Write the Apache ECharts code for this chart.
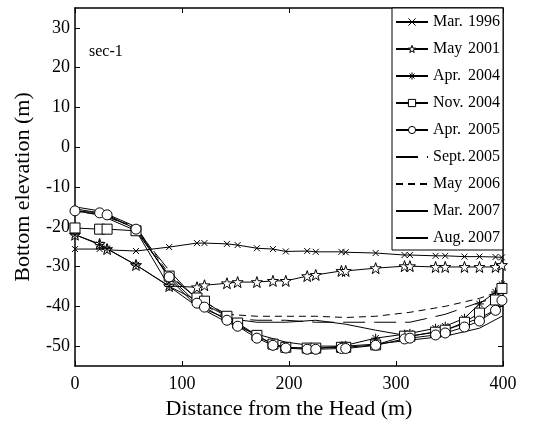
<!DOCTYPE html>
<html>
<head>
<meta charset="utf-8">
<script src="https://cdn.jsdelivr.net/npm/echarts@6/dist/echarts.min.js"></script>
<style>
  html, body { margin: 0; padding: 0; background: #fff; }
  #chart { width: 548px; height: 421px; }
</style>
</head>
<body>
<div id="chart"></div>
<script>
// survey stations (m from the head) shared by the marked profiles
var stations = [0, 23, 30, 57, 88, 114, 121, 142, 152, 170, 185, 197, 217, 225, 249, 253, 281, 308, 313, 337, 346, 364, 378, 393, 399]
var mar1996 = [-25.6, -25.6, -25.8, -26.1, -25.1, -24.1, -24.1, -24.3, -24.6, -25.4, -25.6, -26.2, -26.1, -26.3, -26.3, -26.4, -26.6, -27.1, -27.1, -27.3, -27.3, -27.5, -27.5, -27.6, -27.7]
var may2001 = [-22, -24.3, -25.6, -29.6, -34.9, -35.2, -34.7, -34.2, -33.9, -33.9, -33.6, -33.6, -32.4, -32.1, -31.1, -31.1, -30.4, -29.9, -29.9, -30.1, -30.1, -30.1, -30.1, -30.1, -29.6]
var apr2004 = [-22, -24.5, -25.5, -29.6, -35, -38.5, -39.5, -42.5, -44.5, -47.5, -49.5, -50.3, -50.6, -50.6, -50, -49.8, -48, -47, -46.8, -45.5, -45, -43, -39.4, -36.4, -34.5]
var nov2004 = [-20.3, -20.6, -20.6, -21, -32.4, -37.9, -38.7, -42.5, -44.2, -47.3, -49.5, -50.3, -50.5, -50.5, -50.3, -50.3, -49.7, -47.5, -47.5, -46.5, -46, -44, -41.7, -38.4, -35.5]
var apr2005 = [-16, -16.5, -17, -20.6, -32.6, -39.2, -40.2, -43.5, -45, -48, -49.8, -50.5, -50.8, -50.8, -50.6, -50.6, -49.8, -48.2, -48, -47.2, -46.7, -45.2, -43.7, -41, -38.5]

// unmarked profiles
var lineX = [0, 23, 57, 88, 114, 142, 170, 197, 225, 253, 281, 313, 346, 378, 399]
var sep2005 = [-15.5, -16.5, -20.5, -31, -38.5, -43, -43.5, -43.5, -44, -44, -44, -44, -42, -39, -37.5]
var may2006 = [-16, -17, -20, -32, -38, -42, -42.5, -42.5, -42.5, -42.8, -42.5, -41.5, -40, -38, -36]
var mar2007 = [-15, -16, -20, -33, -40, -43, -44, -44, -43.5, -44.5, -46, -47.5, -46, -43, -40]
var aug2007 = [-16, -17, -21, -35, -40, -44, -47, -49, -50, -50, -49.5, -48.5, -47.5, -45.5, -42.5]

var yTicks = [-50, -40, -30, -20, -10, 0, 10, 20, 30]

var FONT = 'Liberation Serif'
var STAR = 'path://M10 0 L12.35 6.76 L19.51 6.91 L13.8 11.24 L15.88 18.09 L10 14 L4.12 18.09 L6.2 11.24 L0.49 6.91 L7.65 6.76 Z'
var CROSS = 'path://M0 0 L10 10 M10 0 L0 10'
var ASTER = 'path://M5 0 L5 10 M0 5 L10 5 M1.5 1.5 L8.5 8.5 M8.5 1.5 L1.5 8.5'

function pairs(xs, ys) {
  return xs.map(function (x, i) { return [x, ys[i]] })
}

function marked(name, ys, symbol, size) {
  return {
    name: name, type: 'line', data: pairs(stations, ys),
    symbol: symbol, symbolSize: size, showSymbol: true,
    lineStyle: { color: '#000', width: 1 },
    itemStyle: { color: '#fff', borderColor: '#000', borderWidth: 1 },
    emphasis: { disabled: true }, animation: false
  }
}

function plain(name, ys, type) {
  return {
    name: name, type: 'line', data: pairs(lineX, ys),
    symbol: 'none',
    lineStyle: { color: '#000', width: 1, type: type },
    itemStyle: { color: '#000', opacity: 0 },
    emphasis: { disabled: true }, animation: false
  }
}

var series = [
  marked('Mar. 1996', mar1996, CROSS, 6),
  marked('May 2001', may2001, STAR, 11),
  marked('Apr. 2004', apr2004, ASTER, 9),
  marked('Nov. 2004', nov2004, 'rect', 10),
  marked('Apr. 2005', apr2005, 'circle', 10),
  plain('Sept. 2005', sep2005, [22, 9]),
  plain('May 2006', may2006, [7, 5]),
  plain('Mar. 2007', mar2007, 'solid'),
  plain('Aug. 2007', aug2007, 'solid')
]

var legendData = series.map(function (s) {
  var hollow = s.symbol !== 'none'
  return {
    name: s.name,
    itemStyle: hollow
      ? { color: '#fff', borderColor: '#000', borderWidth: 1, opacity: 1 }
      : { opacity: 0 }
  }
})

var axisText = { fontFamily: FONT, fontSize: 18, color: '#000' }
var frame = { show: true, onZero: false, lineStyle: { color: '#000', width: 1.5 } }
var tick = { show: true, inside: true, length: 5, lineStyle: { color: '#000', width: 1 } }

var chart = echarts.init(document.getElementById('chart'))
chart.setOption({
  animation: false,
  backgroundColor: '#fff',
  grid: { left: 75, right: 45, top: 8, bottom: 55, containLabel: false, outerBoundsMode: 'none' },
  xAxis: [{
    type: 'value', min: 0, max: 400, interval: 100,
    name: 'Distance from the Head (m)', nameLocation: 'middle', nameGap: 27,
    nameTextStyle: { fontFamily: FONT, fontSize: 22, color: '#000' },
    axisLine: frame, axisTick: tick, splitLine: { show: false },
    axisLabel: Object.assign({ margin: 9 }, axisText)
  }, {
    type: 'value', min: 0, max: 400, interval: 100, position: 'top',
    axisLine: frame, axisTick: tick, splitLine: { show: false },
    axisLabel: { show: false }
  }],
  yAxis: [{
    type: 'value', min: -55, max: 35,
    name: 'Bottom elevation (m)', nameLocation: 'middle', nameGap: 41,
    nameTextStyle: { fontFamily: FONT, fontSize: 22, color: '#000' },
    axisLine: frame, splitLine: { show: false },
    axisTick: Object.assign({ customValues: yTicks }, tick),
    axisLabel: Object.assign({ customValues: yTicks, margin: 5 }, axisText)
  }, {
    type: 'value', min: -55, max: 35, position: 'right',
    axisLine: frame, splitLine: { show: false },
    axisTick: Object.assign({ customValues: yTicks }, tick),
    axisLabel: { show: false }
  }],
  legend: {
    data: legendData,
    orient: 'vertical', right: 45, top: 8,
    backgroundColor: '#fff', borderColor: '#000', borderWidth: 1, borderRadius: 0,
    padding: [6, 3, 4, 3], itemGap: 11, itemWidth: 32, itemHeight: 9,
    selectedMode: false,
    textStyle: {
      fontFamily: FONT, fontSize: 16, color: '#000', lineHeight: 16,
      rich: {
        m: { fontFamily: FONT, fontSize: 16, color: '#000', width: 35 },
        y: { fontFamily: FONT, fontSize: 16, color: '#000' }
      }
    },
    formatter: function (name) {
      var p = name.split(' ')
      return '{m|' + p[0] + '}{y|' + p[1] + '}'
    }
  },
  graphic: [{
    type: 'text', left: 89, top: 44,
    style: { text: 'sec-1', fontFamily: FONT, fontSize: 16, fill: '#000' }
  }],
  series: series
})
</script>
</body>
</html>
